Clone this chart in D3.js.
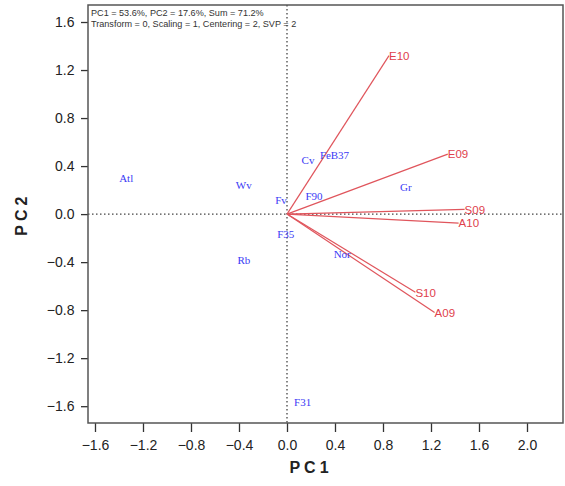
<!DOCTYPE html>
<html><head><meta charset="utf-8">
<script src="https://cdn.jsdelivr.net/npm/d3@7"></script>
<style>body{margin:0;background:#fff}</style>
</head><body><div id="chart"></div>
<script>
// Variable vectors (red)
const varNames = ["E10","E09","S09","A10","S10","A09"];
const varX = [0.85, 1.34, 1.48, 1.43, 1.07, 1.23];
const varY = [1.32, 0.50, 0.04, -0.075, -0.65, -0.82];
// Object scores (blue labels)
const objNames = ["Atl","Wv","Fv","Cv","Fe","B37","F90","Gr","F35","Rb","Nor","F31"];
const objX = [-1.34, -0.36, -0.05, 0.175, 0.32, 0.44, 0.225, 0.99, -0.01, -0.36, 0.46, 0.13];
const objY = [0.30, 0.24, 0.12, 0.45, 0.49, 0.49, 0.15, 0.225, -0.17, -0.38, -0.33, -1.57];
const xTicks = [-1.6,-1.2,-0.8,-0.4,0.0,0.4,0.8,1.2,1.6,2.0];
const yTicks = [-1.6,-1.2,-0.8,-0.4,0.0,0.4,0.8,1.2,1.6];
const headerLines = ["PC1 = 53.6%, PC2 = 17.6%, Sum = 71.2%","Transform = 0, Scaling = 1, Centering = 2, SVP = 2"];

const W=565,H=486;
const L=88,R=563,T=5,B=423;
const svg=d3.select("#chart").append("svg").attr("width",W).attr("height",H);
const x=d3.scaleLinear().domain([-1.6583,2.3]).range([L,R]);
const y=d3.scaleLinear().domain([-1.74,1.7417]).range([B,T]);

// zero lines
svg.append("line").attr("x1",x(0)).attr("x2",x(0)).attr("y1",T).attr("y2",B)
  .attr("stroke","#444").attr("stroke-width",1.3).attr("stroke-dasharray","1.5,2.5");
svg.append("line").attr("x1",L).attr("x2",R).attr("y1",y(0)).attr("y2",y(0))
  .attr("stroke","#444").attr("stroke-width",1.3).attr("stroke-dasharray","1.5,2.5");

// axes
const fmt=d3.format(".1f");
const xa=svg.append("g").attr("transform",`translate(0,${B})`)
  .call(d3.axisBottom(x).tickValues(xTicks).tickFormat(fmt).tickSize(9).tickSizeOuter(0));
const ya=svg.append("g").attr("transform",`translate(${L},0)`)
  .call(d3.axisLeft(y).tickValues(yTicks).tickFormat(fmt).tickSize(7).tickSizeOuter(0));
[xa,ya].forEach(g=>{
  g.select(".domain").remove();
  g.selectAll("line").attr("stroke","#333").attr("stroke-width",1.3);
  g.selectAll("text").attr("font-family","Liberation Sans, Arial, sans-serif").attr("font-size",14).attr("fill","#222");
});
xa.selectAll("text").attr("dy","1.05em");
ya.selectAll("text").attr("dx","-0.25em");

// frame
svg.append("rect").attr("x",L).attr("y",T).attr("width",R-L).attr("height",B-T)
  .attr("fill","none").attr("stroke","#555").attr("stroke-width",1.5);

// header
svg.selectAll(".hdr").data(headerLines).enter().append("text")
  .attr("x",91).attr("y",(d,i)=>16+i*10.5).text(d=>d)
  .attr("font-family","Liberation Sans, Arial, sans-serif").attr("font-size",9.1).attr("fill","#333");

// vectors
const vars=varNames.map((n,i)=>({n,x:varX[i],y:varY[i]}));
svg.selectAll(".vec").data(vars).enter().append("line")
  .attr("x1",x(0)).attr("y1",y(0)).attr("x2",d=>x(d.x)).attr("y2",d=>y(d.y))
  .attr("stroke","#e0555c").attr("stroke-width",1.2);
svg.selectAll(".vlab").data(vars).enter().append("text")
  .attr("x",d=>x(d.x)).attr("y",d=>y(d.y)).attr("dy","0.38em").text(d=>d.n)
  .attr("font-family","Liberation Sans, Arial, sans-serif").attr("font-size",11.5).attr("fill","#e0414c");

// objects
const objs=objNames.map((n,i)=>({n,x:objX[i],y:objY[i]}));
svg.selectAll(".olab").data(objs).enter().append("text")
  .attr("x",d=>x(d.x)).attr("y",d=>y(d.y)).attr("dy","0.35em").attr("text-anchor","middle").text(d=>d.n)
  .attr("font-family","Liberation Serif, Times New Roman, serif").attr("font-size",11).attr("fill","#3b3bf5");

// axis titles
svg.append("text").attr("x",x(0.2)).attr("y",473).attr("text-anchor","middle").text("PC1")
  .attr("font-family","Liberation Sans, Arial, sans-serif").attr("font-weight","bold").attr("font-size",16)
  .attr("letter-spacing","4px").attr("fill","#222");
svg.append("text").attr("transform",`translate(27,${y(0)}) rotate(-90)`).attr("text-anchor","middle").text("PC2")
  .attr("font-family","Liberation Sans, Arial, sans-serif").attr("font-weight","bold").attr("font-size",16)
  .attr("letter-spacing","4px").attr("fill","#222");
</script></body></html>
